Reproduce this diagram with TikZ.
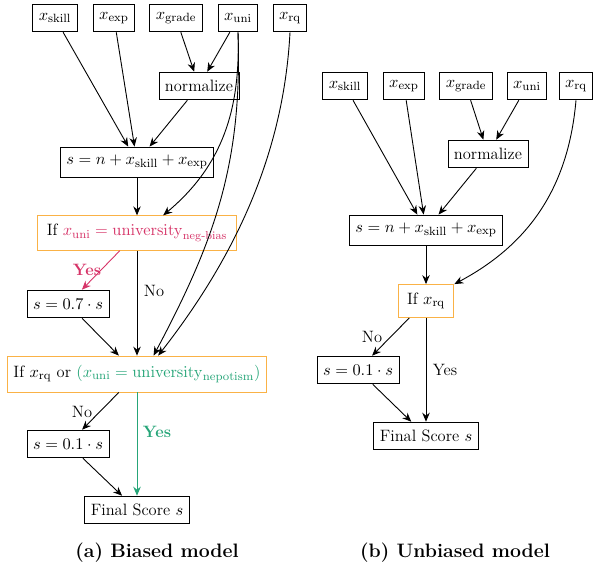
\documentclass[tikz,border=0pt]{standalone}
\usepackage{amsmath}
\usepackage{tikz}
\usepackage{xcolor}
\usetikzlibrary{arrows.meta}
\definecolor{biasred}{RGB}{214,52,104}
\definecolor{nepgreen}{RGB}{38,165,120}
\definecolor{condorange}{RGB}{250,178,70}

\begin{document}
\begin{tikzpicture}[x=0.0235cm, y=-0.0235cm,
        every node/.style={font=\fontsize{11}{13}\selectfont},
        box/.style={draw, semithick, inner xsep=4pt, minimum height=18.5pt},
        sumbox/.style={box, minimum height=20pt},
        cond/.style={draw=condorange, semithick, inner xsep=6pt, minimum height=23pt},
        arr/.style={-{Stealth[length=6pt,width=5pt]}, semithick},
        lbl/.style={inner sep=1pt}]
            \useasboundingbox (0,0) rectangle (595,569);
            % (a) biased
            \node[box] (xskill) at (55,18) {$x_{\mathrm{skill}}$};
            \node[box] (xexp) at (114,18) {$x_{\mathrm{exp}}$};
            \node[box] (xgrade) at (176,18) {$x_{\mathrm{grade}}$};
            \node[box] (xuni) at (238,18) {$x_{\mathrm{uni}}$};
            \node[box] (xrq) at (290,18) {$x_{\mathrm{rq}}$};
            \node[box] (norm) at (199,86) {normalize};
            \node[sumbox] (sum) at (137,162) {$s = n + x_{\mathrm{skill}} + x_{\mathrm{exp}}$};
            \node[cond] (ifuni) at (137,233) {If \textcolor{biasred}{$x_{\mathrm{uni}} = \mathrm{university}_{\text{neg-bias}}$}};
            \node[box] (mulA) at (68,304) {$s = 0.7 \cdot s$};
            \node[cond, minimum height=24pt, inner xsep=4pt] (ifrq) at (137,374) {If $x_{\mathrm{rq}}$ or \textcolor{nepgreen}{$(x_{\mathrm{uni}} = \mathrm{university}_{\mathrm{nepotism}})$}};
            \node[box] (mulB) at (68,444) {$s = 0.1 \cdot s$};
            \node[box] (final) at (137,510) {Final Score $s$};
            \node[lbl, text=biasred] (yesA) at (87,270) {\bfseries Yes};
            \node[lbl] (noA) at (154,291) {No};
            \node[lbl] (noB) at (82,412) {No};
            \node[lbl, text=nepgreen] (yesB) at (157,432) {\bfseries Yes};
            \node (capA) at (157,553) {\fontsize{13}{15}\selectfont\bfseries (a) Biased model};
            \draw[arr] (xskill) -- (sum);
            \draw[arr] (xexp) -- (sum);
            \draw[arr] (xgrade) -- (norm);
            \draw[arr] (xuni) -- (norm);
            \draw[arr] (norm) -- (sum);
            \draw[arr] (sum) -- (ifuni);
            \draw[arr] (xuni.south) to[out=-88, in=40] (ifuni.34);
            \draw[arr, biasred] (ifuni) -- (mulA);
            \draw[arr] (ifuni) -- (ifrq);
            \draw[arr] (mulA) -- (ifrq);
            \draw[arr] (xuni.south) to[out=-88, in=62] (ifrq.48);
            \draw[arr] (xrq.south) to[out=-93, in=52, looseness=0.9] (ifrq.41);
            \draw[arr] (ifrq) -- (mulB);
            \draw[arr, nepgreen] (ifrq) -- (final);
            \draw[arr] (mulB) -- (final);
            % (b) unbiased
            \node[box] (bxskill) at (345,86) {$x_{\mathrm{skill}}$};
            \node[box] (bxexp) at (404,86) {$x_{\mathrm{exp}}$};
            \node[box] (bxgrade) at (466,86) {$x_{\mathrm{grade}}$};
            \node[box] (bxuni) at (527,86) {$x_{\mathrm{uni}}$};
            \node[box] (bxrq) at (576,86) {$x_{\mathrm{rq}}$};
            \node[box] (bnorm) at (488,154) {normalize};
            \node[sumbox] (bsum) at (426,230) {$s = n + x_{\mathrm{skill}} + x_{\mathrm{exp}}$};
            \node[cond, minimum height=22pt] (bifrq) at (426,301) {If $x_{\mathrm{rq}}$};
            \node[box] (bmul) at (358,370) {$s = 0.1 \cdot s$};
            \node[box] (bfinal) at (426,436) {Final Score $s$};
            \node[lbl] (bno) at (372,337) {No};
            \node[lbl] (byes) at (445,370) {Yes};
            \node (capB) at (455,553) {\fontsize{13}{15}\selectfont\bfseries (b) Unbiased model};
            \draw[arr] (bxskill) -- (bsum);
            \draw[arr] (bxexp) -- (bsum);
            \draw[arr] (bxgrade) -- (bnorm);
            \draw[arr] (bxuni) -- (bnorm);
            \draw[arr] (bnorm) -- (bsum);
            \draw[arr] (bsum) -- (bifrq);
            \draw[arr] (bxrq.south) to[out=-95, in=28] (bifrq.north east);
            \draw[arr] (bifrq) -- (bmul);
            \draw[arr] (bifrq) -- (bfinal);
            \draw[arr] (bmul) -- (bfinal);
        \end{tikzpicture}
\end{document}
